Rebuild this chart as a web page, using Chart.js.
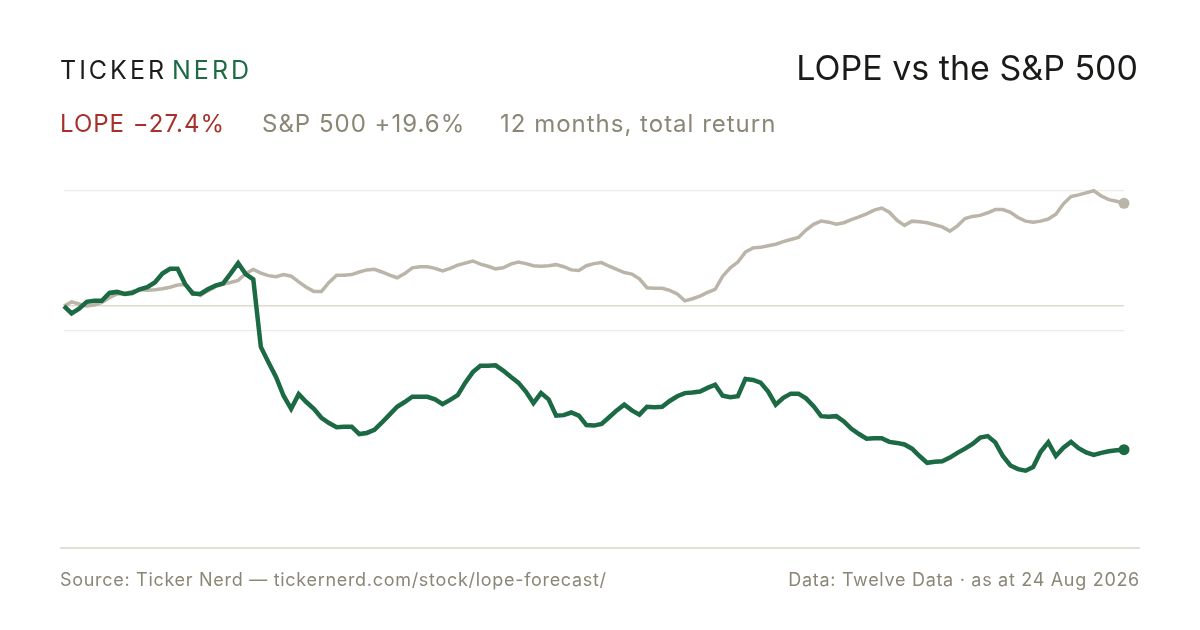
<!DOCTYPE html>
<html>
<head>
<meta charset="utf-8">
<title>LOPE vs the S&amp;P 500</title>
<script src="https://cdn.jsdelivr.net/npm/chart.js@4.4.1/dist/chart.umd.min.js"></script>
<style>
    body { margin: 0; background: #fff; font-family: Inter, "Noto Sans", sans-serif; }
    #wrap { position: relative; width: 1200px; height: 630px; overflow: hidden; background: #fff; }
    #chart { position: absolute; left: 0; top: 0; }
    .brand { position: absolute; left: 60px; top: 56px; font-size: 25px; line-height: 28px; letter-spacing: 3px; color: #1c1c1a; }
    .brand span { color: #1d6b45; margin-left: 5px; }
    .title { position: absolute; right: 62px; top: 48px; font-size: 34px; line-height: 40px; color: #1a1a18; }
    .sub { position: absolute; top: 110px; font-size: 24px; line-height: 28px; letter-spacing: 1px; }
    .sub.lope { left: 60px; color: #a8302a; }
    .sub.spx { left: 262px; color: #8b8676; }
    .sub.period { left: 500px; color: #8b8676; }
    .rule { position: absolute; left: 60px; top: 547px; width: 1080px; height: 2px; background: #e2dfd5; }
    .foot { position: absolute; top: 569px; font-size: 18px; line-height: 22px; letter-spacing: 0.7px; color: #8b8676; }
    .foot.left { left: 60px; }
    .foot.right { right: 60px; }
</style>
</head>
<body>
<div id="wrap">
    <canvas id="chart" width="1200" height="630"></canvas>
    <div class="brand">TICKER<span>NERD</span></div>
    <div class="title">LOPE vs the S&amp;P 500</div>
    <div class="sub lope">LOPE −27.4%</div>
    <div class="sub spx">S&amp;P 500 +19.6%</div>
    <div class="sub period">12 months, total return</div>
    <div class="rule"></div>
    <div class="foot left">Source: Ticker Nerd — tickernerd.com/stock/lope-forecast/</div>
    <div class="foot right">Data: Twelve Data · as at 24 Aug 2026</div>
</div>
<script>
// 12-month total return, % change from start
const lopeReturns = [
    0, -1.4, -0.5, 0.8, 1.0, 1.0, 2.5, 2.7, 2.3, 2.5,
    3.2, 3.6, 4.5, 6.2, 7.1, 7.1, 4.2, 2.4, 2.3, 3.2,
    3.9, 4.3, 6.2, 8.2, 6.1, 5.1, -7.8, -10.7, -13.5, -17.1,
    -19.6, -16.8, -18.3, -19.6, -21.3, -22.3, -23.1, -23.0, -23.0, -24.4,
    -24.2, -23.6, -22.2, -20.7, -19.2, -18.3, -17.3, -17.3, -17.3, -17.8,
    -18.7, -17.9, -17.0, -14.6, -12.6, -11.4, -11.4, -11.3, -12.3, -13.5,
    -14.6, -16.3, -18.5, -16.6, -17.8, -20.9, -20.8, -20.3, -20.9, -22.7,
    -22.8, -22.5, -21.2, -19.9, -18.8, -19.9, -20.7, -19.2, -19.3, -19.2,
    -18.1, -17.2, -16.6, -16.5, -16.3, -15.6, -15.0, -17.1, -17.4, -17.2,
    -13.9, -14.1, -14.6, -16.3, -18.8, -17.5, -16.7, -16.7, -17.6, -19.1,
    -21.0, -21.1, -21.0, -22.0, -23.4, -24.4, -25.3, -25.2, -25.2, -25.9,
    -26.1, -26.4, -27.2, -28.6, -29.9, -29.7, -29.6, -28.9, -28.0, -27.2,
    -26.3, -25.1, -24.8, -26.0, -28.6, -30.4, -31.1, -31.4, -30.7, -27.8,
    -26.0, -28.6, -27.0, -25.9, -27.1, -27.9, -28.4, -28.0, -27.7, -27.5,
    -27.4
];

const spxReturns = [
    0, 0.8, 0.4, 0.0, 0.2, 0.7, 1.6, 2.3, 2.4, 2.8,
    3.1, 3.0, 3.1, 3.3, 3.6, 4.0, 4.1, 2.7, 2.0, 2.9,
    3.7, 4.2, 4.5, 4.9, 6.2, 7.0, 6.3, 5.8, 5.6, 6.0,
    5.7, 4.6, 3.6, 2.8, 2.8, 4.5, 5.9, 5.9, 6.0, 6.5,
    6.9, 7.0, 6.5, 5.9, 5.4, 6.2, 7.3, 7.5, 7.5, 7.2,
    6.7, 7.2, 7.8, 8.2, 8.6, 8.0, 7.6, 7.1, 7.3, 8.0,
    8.4, 8.1, 7.7, 7.6, 7.7, 7.9, 7.5, 6.9, 6.8, 7.7,
    8.1, 8.3, 7.6, 7.0, 6.4, 6.1, 5.2, 3.5, 3.4, 3.4,
    3.0, 2.3, 1.0, 1.4, 1.9, 2.6, 3.2, 5.7, 7.3, 8.4,
    10.3, 11.1, 11.2, 11.5, 11.8, 12.3, 12.7, 13.1, 14.5, 15.6,
    16.2, 16.0, 15.6, 15.9, 16.5, 17.0, 17.6, 18.3, 18.7, 17.9,
    16.4, 15.4, 16.2, 16.1, 15.9, 15.5, 15.1, 14.3, 15.3, 16.7,
    17.1, 17.3, 17.8, 18.4, 18.4, 17.9, 16.9, 16.2, 16.0, 16.2,
    16.6, 17.5, 19.5, 20.9, 21.2, 21.6, 22.0, 21.0, 20.3, 20.0,
    19.6
];

// horizontal guide lines (value in %)
const gridValues = [22, 0, -4.6];

const labels = lopeReturns.map((_, i) => i);
const lastIndex = lopeReturns.length - 1;

// only mark the final point of each line
function endDot(ctx) {
    return ctx.dataIndex === lastIndex ? 5.5 : 0;
}

new Chart(document.getElementById('chart'), {
    type: 'line',
    data: {
        labels: labels,
        datasets: [
            {
                label: 'LOPE',
                data: lopeReturns,
                borderColor: '#1b6a44',
                backgroundColor: '#1b6a44',
                borderWidth: 4.5,
                pointRadius: endDot,
                pointBorderWidth: 0,
                tension: 0,
                clip: false
            },
            {
                label: 'S&P 500',
                data: spxReturns,
                borderColor: '#bbb4a8',
                backgroundColor: '#bbb4a8',
                borderWidth: 3.5,
                pointRadius: endDot,
                pointBorderWidth: 0,
                tension: 0,
                clip: false
            }
        ]
    },
    options: {
        responsive: false,
        animation: false,
        layout: {
            padding: { left: 64, right: 76, top: 175, bottom: 88 }
        },
        scales: {
            x: {
                display: false
            },
            y: {
                min: -45,
                max: 25,
                afterBuildTicks: scale => {
                    scale.ticks = gridValues.map(v => ({ value: v }));
                },
                ticks: { display: false },
                border: { display: false },
                grid: {
                    drawTicks: false,
                    color: ctx => ctx.tick && ctx.tick.value === 0 ? '#dedacb' : '#ecebe6',
                    lineWidth: ctx => ctx.tick && ctx.tick.value === 0 ? 1.5 : 1.2
                }
            }
        },
        plugins: {
            legend: { display: false },
            tooltip: { enabled: false }
        }
    }
});
</script>
</body>
</html>
